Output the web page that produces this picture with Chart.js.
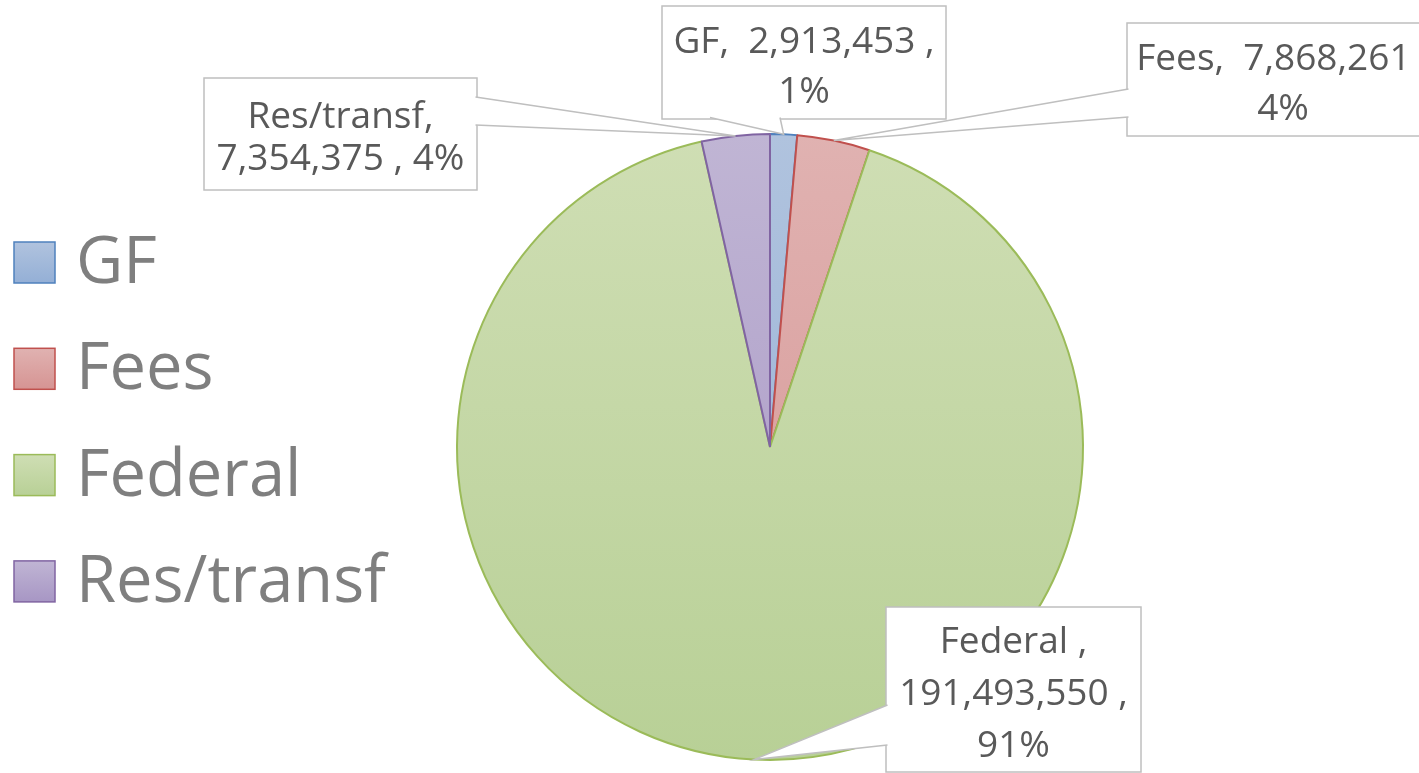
<!DOCTYPE html>
<html>
<head>
<meta charset="utf-8">
<script src="https://cdn.jsdelivr.net/npm/chart.js@4.4.1/dist/chart.umd.min.js"></script>
<style>
  html, body { margin: 0; padding: 0; background: #fff; }
</style>
</head>
<body>
<canvas id="budget-chart" width="1419" height="773"></canvas>
<script>
const categories = ['GF', 'Fees', 'Federal', 'Res/transf'];
const amounts = [2913453, 7868261, 191493550, 7354375];
const borderColors = ['#4f81bd', '#c0504d', '#9bbb59', '#8064a2'];
const fillTop = ['#b0c3de', '#e0b2b1', '#cfdeb4', '#c0b5d4'];
const fillBottom = ['#94afd6', '#d69493', '#b8d096', '#a796c4'];

const total = amounts.reduce((a, b) => a + b, 0);
const fmt = (v) => v.toLocaleString('en-US');
const pct = (v) => `${Math.round((v * 100) / total)}%`;

// how each callout breaks its text into lines
const labelLines = [
  [`${categories[0]},  ${fmt(amounts[0])} ,`, pct(amounts[0])],
  [`${categories[1]},  ${fmt(amounts[1])} ,`, pct(amounts[1])],
  [`${categories[2]} ,`, `${fmt(amounts[2])} ,`, pct(amounts[2])],
  [`${categories[3]},`, `${fmt(amounts[3])} , ${pct(amounts[3])}`]
];

// callout boxes: [left, top, right, bottom], wedge side and base coords
const callouts = [
  { box: [662, 6, 946, 119], side: 'bottom', base: [710, 780], lineH: 50, shiftY: 2 },
  { box: [1127, 23, 1445, 136], side: 'left', base: [89, 117], lineH: 50, textX: 1283, shiftY: 2 },
  { box: [886, 607, 1141, 772], side: 'left', base: [705, 745], lineH: 52, shiftY: 2 },
  { box: [204, 78, 477, 190], side: 'right', base: [97, 125], lineH: 42, shiftY: 2 }
];

function verticalGradient(ctx, top, bottom, c1, c2) {
  const g = ctx.createLinearGradient(0, top, 0, bottom);
  g.addColorStop(0, c1);
  g.addColorStop(1, c2);
  return g;
}

const calloutPlugin = {
  id: 'callouts',
  afterDatasetsDraw(chart) {
    const { ctx } = chart;
    const arcs = chart.getDatasetMeta(0).data;
    ctx.save();
    ctx.font = '37px "Open Sans"';
    arcs.forEach((arc, i) => {
      const c = callouts[i];
      const [l, t, r, b] = c.box;
      const mid = (arc.startAngle + arc.endAngle) / 2;
      const tipX = arc.x + arc.outerRadius * Math.cos(mid);
      const tipY = arc.y + arc.outerRadius * Math.sin(mid);

      ctx.fillStyle = '#ffffff';
      ctx.fillRect(l, t, r - l, b - t);
      ctx.strokeStyle = '#bfbfbf';
      ctx.lineWidth = 1.5;
      ctx.strokeRect(l, t, r - l, b - t);

      let p1, p2;
      if (c.side === 'bottom') {
        p1 = [c.base[0], b - 1.5];
        p2 = [c.base[1], b - 1.5];
      } else if (c.side === 'left') {
        p1 = [l + 1.5, c.base[0]];
        p2 = [l + 1.5, c.base[1]];
      } else {
        p1 = [r - 1.5, c.base[0]];
        p2 = [r - 1.5, c.base[1]];
      }
      ctx.beginPath();
      ctx.moveTo(p1[0], p1[1]);
      ctx.lineTo(tipX, tipY);
      ctx.lineTo(p2[0], p2[1]);
      ctx.closePath();
      ctx.fill();
      ctx.beginPath();
      ctx.moveTo(p1[0], p1[1]);
      ctx.lineTo(tipX, tipY);
      ctx.lineTo(p2[0], p2[1]);
      ctx.stroke();

      const lines = labelLines[i];
      const capH = 26.5;
      const blockH = capH + (lines.length - 1) * c.lineH;
      const firstBase = (t + b) / 2 - blockH / 2 + capH + c.shiftY;
      const cx = c.textX || (l + r) / 2;
      ctx.fillStyle = '#595959';
      ctx.textAlign = 'center';
      ctx.textBaseline = 'alphabetic';
      lines.forEach((line, k) => {
        ctx.fillText(line, cx, firstBase + k * c.lineH);
      });
    });
    ctx.restore();
  }
};

const legendPlugin = {
  id: 'sideLegend',
  afterDraw(chart) {
    const { ctx } = chart;
    ctx.save();
    ctx.font = '65px "Open Sans"';
    ctx.textAlign = 'left';
    ctx.textBaseline = 'alphabetic';
    chart.data.labels.forEach((label, i) => {
      const baseY = 283 + i * 106.3;
      const top = baseY - 41;
      ctx.fillStyle = verticalGradient(ctx, top, baseY, fillTop[i], fillBottom[i]);
      ctx.fillRect(14, top, 41, 41);
      ctx.strokeStyle = borderColors[i];
      ctx.lineWidth = 1.5;
      ctx.strokeRect(14, top, 41, 41);
      ctx.fillStyle = '#7f7f7f';
      ctx.fillText(label, 76, baseY);
    });
    ctx.restore();
  }
};

const chartCanvas = document.getElementById('budget-chart');
const chart = new Chart(chartCanvas, { /* eslint-disable-line no-unused-vars */
  type: 'pie',
  data: {
    labels: categories,
    datasets: [
      {
        data: amounts,
        backgroundColor: (context) => {
          const { chartArea } = context.chart;
          const i = context.dataIndex;
          if (!chartArea) return fillTop[i];
          return verticalGradient(context.chart.ctx, chartArea.top, chartArea.bottom, fillTop[i], fillBottom[i]);
        },
        borderColor: borderColors,
        borderWidth: 2
      }
    ]
  },
  options: {
    responsive: false,
    animation: false,
    devicePixelRatio: 1,
    layout: {
      padding: { left: 456, right: 335, top: 133, bottom: 12 }
    },
    plugins: {
      legend: { display: false },
      tooltip: { enabled: false }
    }
  },
  plugins: [calloutPlugin, legendPlugin]
});
</script>
</body>
</html>
